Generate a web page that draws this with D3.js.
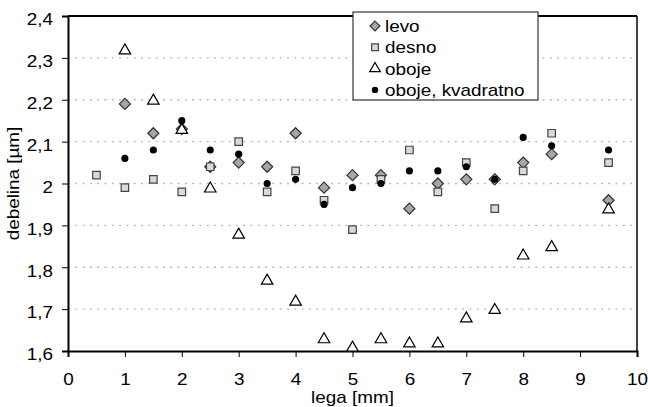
<!DOCTYPE html>
<html>
<head>
<meta charset="utf-8">
<script src="https://cdn.jsdelivr.net/npm/d3@7"></script>
<style>
  body { margin: 0; background: #fff; }
  svg text { font-family: "Liberation Sans", Arial, sans-serif; fill: #000; }
</style>
</head>
<body>
<div id="chart"></div>
<script>
// positions along the sample [mm]
var xPos = [0.5, 1, 1.5, 2, 2.5, 3, 3.5, 4, 4.5, 5, 5.5, 6, 6.5, 7, 7.5, 8, 8.5, 9.5];

// thickness [um], null where no point
var levo    = [null, 2.19, 2.12, 2.13, 2.04, 2.05, 2.04, 2.12, 1.99, 2.02, 2.02, 1.94, 2.00, 2.01, 2.01, 2.05, 2.07, 1.96];
var desno   = [2.02, 1.99, 2.01, 1.98, 2.04, 2.10, 1.98, 2.03, 1.96, 1.89, 2.01, 2.08, 1.98, 2.05, 1.94, 2.03, 2.12, 2.05];
var oboje   = [null, 2.32, 2.20, 2.13, 1.99, 1.88, 1.77, 1.72, 1.63, 1.61, 1.63, 1.62, 1.62, 1.68, 1.70, 1.83, 1.85, 1.94];
var kvadrat = [null, 2.06, 2.08, 2.15, 2.08, 2.07, 2.00, 2.01, 1.95, 1.99, 2.00, 2.03, 2.03, 2.04, 2.01, 2.11, 2.09, 2.08];

var seriesNames = ["levo", "desno", "oboje", "oboje, kvadratno"];
var xTicks = [0, 1, 2, 3, 4, 5, 6, 7, 8, 9, 10];
var yTicks = [1.6, 1.7, 1.8, 1.9, 2.0, 2.1, 2.2, 2.3, 2.4];

const W = 648, H = 407;
const margin = { left: 68, right: 11, top: 16, bottom: 56 };
const SX = 1.18; // text in the original is a bit wide

const svg = d3.select('#chart').append('svg')
  .attr('width', W).attr('height', H);

const x = d3.scaleLinear().domain([0, 10]).range([margin.left, W - margin.right]);
const y = d3.scaleLinear().domain([1.6, 2.4]).range([H - margin.bottom, margin.top]);

const fmt = d => d === 2 ? "2" : d3.format(".1f")(d).replace('.', ',');

// grid lines
svg.append('g').selectAll('line')
  .data(yTicks.filter(d => d > 1.65 && d < 2.35))
  .join('line')
  .attr('x1', x(0)).attr('x2', x(10))
  .attr('y1', d => y(d)).attr('y2', d => y(d))
  .attr('stroke', '#b8b8b8').attr('stroke-width', 1.3)
  .attr('stroke-dasharray', '2,5.3');

// frame top/right
svg.append('line').attr('x1', x(0)).attr('x2', x(10)).attr('y1', y(2.4)).attr('y2', y(2.4))
  .attr('stroke', '#000').attr('stroke-width', 1.8);
svg.append('line').attr('x1', x(10)).attr('x2', x(10)).attr('y1', y(2.4)).attr('y2', y(1.6))
  .attr('stroke', '#000').attr('stroke-width', 1.5);

// axes
const xAxis = svg.append('g')
  .attr('transform', `translate(0,${y(1.6)})`)
  .call(d3.axisBottom(x).tickValues(xTicks).tickSize(6).tickPadding(17).tickFormat(d => d));
const yAxis = svg.append('g')
  .attr('transform', `translate(${x(0)},0)`)
  .call(d3.axisLeft(y).tickValues(yTicks).tickSize(6).tickPadding(9).tickFormat(fmt));
[xAxis, yAxis].forEach(a => {
  a.select('.domain').attr('stroke', '#000').attr('stroke-width', 2);
  a.selectAll('.tick line').attr('stroke', '#000').attr('stroke-width', 1);
  a.selectAll('text').style('font-size', '16px').attr('fill', '#000');
});
xAxis.selectAll('text').attr('transform', `scale(${SX},1)`);
yAxis.selectAll('text')
  .attr('x', -15 / SX).attr('dy', '0.55em')
  .attr('transform', `scale(${SX},1)`);

// axis titles
svg.append('text')
  .attr('transform', `translate(${(x(0) + x(10)) / 2},403) scale(${SX},1)`)
  .attr('text-anchor', 'middle').style('font-size', '16px').text('lega [mm]');
svg.append('text')
  .attr('transform', `translate(19,${y(2.0)}) rotate(-90) scale(${SX},1)`)
  .attr('text-anchor', 'middle').style('font-size', '16px').text('debelina [µm]');

// symbols
const sym = {
  levo:    { type: d3.symbolDiamond2, size: 78, fill: '#a6a6a6', stroke: '#333' },
  desno:   { type: d3.symbolSquare2, size: 72, fill: '#d9d9d9', stroke: '#444' },
  oboje:   { type: d3.symbolTriangle2, size: 95, fill: '#fff', stroke: '#000' },
  kvadrat: { type: d3.symbolCircle, size: 40, fill: '#000', stroke: 'none' }
};

function drawSeries(vals, s, dy) {
  svg.append('g').selectAll('path')
    .data(xPos.map((p, i) => ({ p: p, v: vals[i] })).filter(d => d.v != null))
    .join('path')
    .attr('d', d3.symbol().type(s.type).size(s.size))
    .attr('transform', d => `translate(${x(d.p)},${y(d.v) + (dy || 0)})`)
    .attr('fill', s.fill).attr('stroke', s.stroke).attr('stroke-width', 1.2);
}
drawSeries(levo, sym.levo);
drawSeries(desno, sym.desno);
drawSeries(oboje, sym.oboje, 1);
drawSeries(kvadrat, sym.kvadrat);

// legend
const lg = svg.append('g').attr('transform', 'translate(353,12)');
lg.append('rect').attr('width', 185).attr('height', 88)
  .attr('fill', '#fff').attr('stroke', '#333').attr('stroke-width', 1.2);
const lsym = [sym.levo, sym.desno, sym.oboje, sym.kvadrat];
seriesNames.forEach((n, i) => {
  const cy = 14 + i * 21.3;
  lg.append('path')
    .attr('d', d3.symbol().type(lsym[i].type).size(lsym[i].size * (i == 2 ? 0.85 : 0.8)))
    .attr('transform', `translate(22,${cy})`)
    .attr('fill', lsym[i].fill).attr('stroke', lsym[i].stroke).attr('stroke-width', 1.2);
  lg.append('text')
    .attr('transform', `translate(32,${cy + 6}) scale(${SX},1)`)
    .style('font-size', '16px').text(n);
});
</script>
</body>
</html>
